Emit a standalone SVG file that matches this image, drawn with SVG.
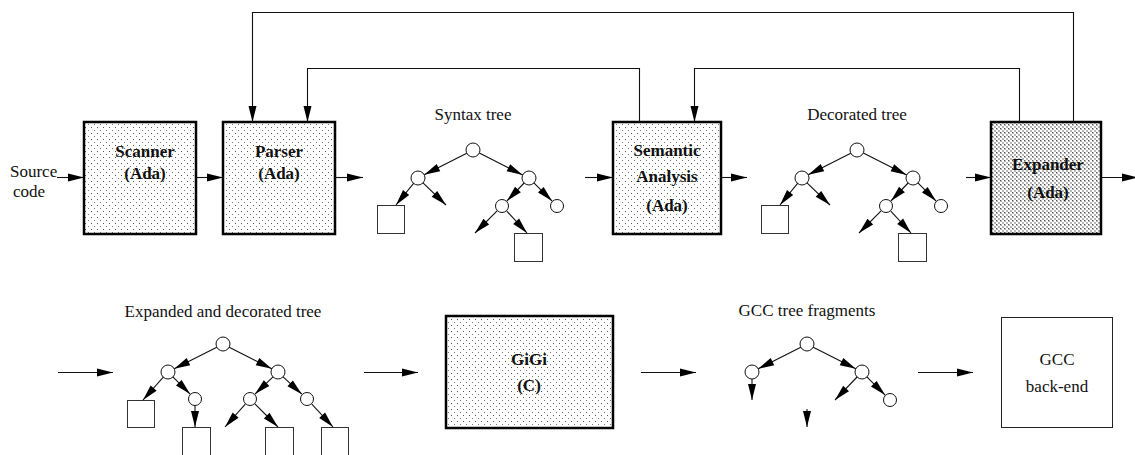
<svg xmlns="http://www.w3.org/2000/svg" width="1135" height="455" viewBox="0 0 1135 455">
<style>
text{font-family:"Liberation Serif","Times New Roman",serif;font-size:17px;fill:#111}
.b{font-weight:bold}
.m{text-anchor:middle}
.box{stroke:#000;stroke-width:2.5}
.dot{fill:url(#dots)}
.dense{fill:url(#dense)}
.plain{fill:#fff;stroke:#222;stroke-width:1}
.nd{fill:#fff;stroke:#111;stroke-width:1}
.sq{fill:#fff;stroke:#333;stroke-width:1}
.c{fill:none;stroke:#111;stroke-width:1.1;marker-end:url(#ah)}
</style>
<defs>
<pattern id="dots" width="6" height="6" patternUnits="userSpaceOnUse">
<rect width="6" height="6" fill="#fff"/>
<rect x="1" y="1" width="1" height="1" fill="#555"/>
<rect x="4" y="4" width="1" height="1" fill="#777"/>
</pattern>
<pattern id="dense" width="4" height="4" patternUnits="userSpaceOnUse">
<rect width="4" height="4" fill="#fff"/>
<rect x="0" y="0" width="2" height="2" fill="#b8b8b8"/>
<rect x="2" y="2" width="2" height="2" fill="#b8b8b8"/>
<rect x="0" y="0" width="1" height="1" fill="#555"/>
</pattern>
<marker id="ah" markerUnits="userSpaceOnUse" markerWidth="16" markerHeight="8" refX="16" refY="4" orient="auto" overflow="visible">
<path d="M0,0 L16,4 L0,8 Z" fill="#000"/>
</marker>
</defs>

<g id="source">
<text x="10" y="177">Source</text>
<text x="13" y="197">code</text>
</g>
<g id="scanner">
<rect class="box dot" x="84" y="122" width="112" height="112"/>
<text class="b m" x="145" y="157">Scanner</text>
<text class="b m" x="145" y="179">(Ada)</text>
</g>
<g id="parser">
<rect class="box dot" x="223" y="122" width="112" height="112"/>
<text class="b m" x="279" y="157">Parser</text>
<text class="b m" x="279" y="179">(Ada)</text>
</g>
<g id="semantic">
<rect class="box dot" x="613" y="122" width="108" height="112"/>
<text class="b m" x="667" y="156">Semantic</text>
<text class="b m" x="667" y="182">Analysis</text>
<text class="b m" x="667" y="211">(Ada)</text>
</g>
<g id="expander">
<rect class="box dense" x="991" y="122" width="110" height="112"/>
<text class="b m" x="1048" y="170">Expander</text>
<text class="b m" x="1048" y="198">(Ada)</text>
</g>
<g id="gigi">
<rect class="box dot" x="446" y="316" width="167" height="112"/>
<text class="b m" x="529" y="365">GiGi</text>
<text class="b m" x="529" y="391">(C)</text>
</g>
<g id="gcc">
<rect class="plain" x="1001.5" y="317.5" width="111" height="110"/>
<text class="m" x="1057" y="365">GCC</text>
<text class="m" x="1057" y="392">back-end</text>
</g>

<g id="syntax-tree">
<text class="m" x="473" y="120">Syntax tree</text>
<circle class="nd" cx="473" cy="150" r="7"/>
<circle class="nd" cx="418" cy="178" r="7"/>
<circle class="nd" cx="529" cy="178" r="7"/>
<circle class="nd" cx="502" cy="206" r="6.5"/>
<circle class="nd" cx="557" cy="206" r="6.5"/>
<rect class="sq" x="377.5" y="205.5" width="27" height="28"/>
<rect class="sq" x="514.5" y="233.5" width="28" height="28"/>
</g>
<g id="decorated-tree">
<text class="m" x="857" y="120">Decorated tree</text>
<g transform="translate(384,0)">
<circle class="nd" cx="473" cy="150" r="7"/>
<circle class="nd" cx="418" cy="178" r="7"/>
<circle class="nd" cx="529" cy="178" r="7"/>
<circle class="nd" cx="502" cy="206" r="6.5"/>
<circle class="nd" cx="557" cy="206" r="6.5"/>
<rect class="sq" x="377.5" y="205.5" width="27" height="28"/>
<rect class="sq" x="514.5" y="233.5" width="28" height="28"/>
</g>
</g>
<g id="expanded-tree">
<text class="m" x="223" y="317">Expanded and decorated tree</text>
<circle class="nd" cx="223" cy="344" r="7"/>
<circle class="nd" cx="168" cy="372" r="7"/>
<circle class="nd" cx="278" cy="372" r="7"/>
<circle class="nd" cx="195" cy="399" r="6.5"/>
<circle class="nd" cx="250" cy="399" r="6.5"/>
<circle class="nd" cx="307" cy="399" r="6.5"/>
<rect class="sq" x="127.5" y="400.5" width="27" height="27"/>
<rect class="sq" x="182.5" y="427.5" width="28" height="28"/>
<rect class="sq" x="265.5" y="427.5" width="28" height="28"/>
<rect class="sq" x="321.5" y="427.5" width="27" height="28"/>
</g>
<g id="gcc-fragments">
<text class="m" x="807" y="316">GCC tree fragments</text>
<circle class="nd" cx="807" cy="344" r="7"/>
<circle class="nd" cx="752" cy="372" r="7"/>
<circle class="nd" cx="862" cy="372" r="7"/>
<circle class="nd" cx="890" cy="400" r="6.5"/>
</g>

<g id="connectors">
<path class="c" d="M57,177.5 H84"/>
<path class="c" d="M196,177.5 H223"/>
<path class="c" d="M335,177.5 H363"/>
<path class="c" d="M585,177.5 H613"/>
<path class="c" d="M721,177.5 H747"/>
<path class="c" d="M966,177.5 H991"/>
<path class="c" d="M1101,177.5 H1138"/>
<path class="c" d="M1073.5,122 V12.5 H252.5 V122"/>
<path class="c" d="M639.5,122 V68.5 H307.5 V122"/>
<path class="c" d="M1019.5,122 V68.5 H694.5 V122"/>
<path class="c" d="M58,372.5 H113"/>
<path class="c" d="M364,372.5 H418"/>
<path class="c" d="M641,372.5 H696"/>
<path class="c" d="M918,372.5 H973"/>
<g id="syntax-edges">
<path class="c" d="M466.8,153.2 L424.2,174.8"/>
<path class="c" d="M479.3,153.1 L522.7,174.9"/>
<path class="c" d="M413.6,183.4 L396,205"/>
<path class="c" d="M423,182.9 L446,205"/>
<path class="c" d="M524.1,183 L506.9,201"/>
<path class="c" d="M533.9,182.9 L552.1,201.1"/>
<path class="c" d="M497.1,210.9 L475,233"/>
<path class="c" d="M506.8,211.1 L527,233"/>
</g>
<g id="decorated-edges" transform="translate(384,0)">
<path class="c" d="M466.8,153.2 L424.2,174.8"/>
<path class="c" d="M479.3,153.1 L522.7,174.9"/>
<path class="c" d="M413.6,183.4 L396,205"/>
<path class="c" d="M423,182.9 L446,205"/>
<path class="c" d="M524.1,183 L506.9,201"/>
<path class="c" d="M533.9,182.9 L552.1,201.1"/>
<path class="c" d="M497.1,210.9 L475,233"/>
<path class="c" d="M506.8,211.1 L527,233"/>
</g>
<g id="expanded-edges">
<path class="c" d="M216.8,347.2 L174.2,368.8"/>
<path class="c" d="M229.2,347.2 L271.8,368.8"/>
<path class="c" d="M163.3,377.2 L143,400"/>
<path class="c" d="M172.9,376.9 L190.1,394.1"/>
<path class="c" d="M195,405.5 L195,427"/>
<path class="c" d="M273,376.9 L255,394.1"/>
<path class="c" d="M283.1,376.8 L301.9,394.2"/>
<path class="c" d="M245.3,404.2 L225,427"/>
<path class="c" d="M254.9,403.9 L278,427"/>
<path class="c" d="M311.8,404.1 L333,427"/>
</g>
<g id="gcc-edges">
<path class="c" d="M800.8,347.2 L758.2,368.8"/>
<path class="c" d="M813.2,347.2 L855.8,368.8"/>
<path class="c" d="M752,379 L752,400"/>
<path class="c" d="M857.1,377 L835,400"/>
<path class="c" d="M866.9,376.9 L885.1,395.1"/>
<path class="c" d="M807,409 L807,427"/>
</g>
</g>
</svg>
